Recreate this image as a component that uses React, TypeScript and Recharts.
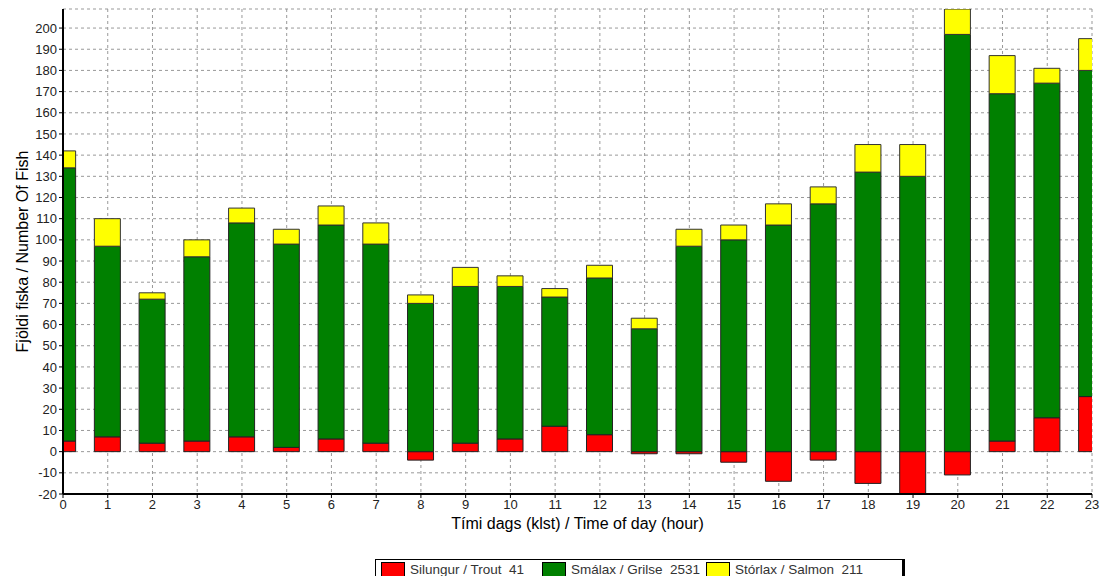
import React from 'react';
import { BarChart, Bar, XAxis, YAxis, CartesianGrid, Label } from 'recharts';

const hours = [0,1,2,3,4,5,6,7,8,9,10,11,12,13,14,15,16,17,18,19,20,21,22,23];
const trout = [5,7,4,5,7,2,6,4,-4,4,6,12,8,-1,-1,-5,-14,-4,-15,-21,-11,5,16,26];
const grilse = [129,90,68,87,101,96,101,94,70,74,72,61,74,58,97,100,107,117,132,130,197,164,158,154];
const salmon = [8,13,3,8,7,7,9,10,4,9,5,4,6,5,8,7,10,8,13,15,12,18,7,15];
const yTicks = [-20,-10,0,10,20,30,40,50,60,70,80,90,100,110,120,130,140,150,160,170,180,190,200];

const seriesNames = ['Silungur / Trout', 'Smálax / Grilse', 'Stórlax / Salmon'];
const seriesColors = ['#FF0000', '#008000', '#FFFF00'];
const seriesTotals = [41, 2531, 211];
const legendItemLeft = [5, 166, 330];

const data = hours.map((h, i) => ({ hour: h, trout: trout[i], grilse: grilse[i], salmon: salmon[i] }));

const FONT = '"Liberation Sans", Arial, sans-serif';

export default function App() {
  return (
    <div style={{ position: 'absolute', left: 0, top: 0, width: 1103, height: 576, background: '#fff', fontFamily: FONT }}>
      <BarChart
        width={1103}
        height={576}
        data={data}
        stackOffset="sign"
        barSize={26}
        margin={{ top: 9, right: 11, bottom: 42, left: 0 }}
      >
        <CartesianGrid stroke="#999" strokeDasharray="3 3" />
        <XAxis
          dataKey="hour"
          type="number"
          domain={[0, 23]}
          ticks={hours}
          interval={0}
          allowDataOverflow
          height={40}
          tick={{ fontSize: 13, fill: '#222', fontFamily: FONT }}
          tickSize={4}
          tickMargin={2}
          tickLine={{ stroke: '#000' }}
          axisLine={{ stroke: '#000', strokeWidth: 2 }}
        >
          <Label value="Tími dags (klst) / Time of day (hour)" position="insideBottom" offset={5}
            style={{ fontSize: 16, fill: '#000', fontFamily: FONT }} />
        </XAxis>
        <XAxis xAxisId="top" orientation="top" type="number" domain={[0, 23]} height={0}
          tick={false} tickLine={false} axisLine={{ stroke: '#808080', strokeWidth: 1.5 }} />
        <YAxis
          type="number"
          domain={[-20, 209]}
          ticks={yTicks}
          interval={0}
          allowDataOverflow
          width={63}
          tick={{ fontSize: 13, fill: '#222', fontFamily: FONT }}
          tickSize={4}
          tickMargin={2}
          tickLine={{ stroke: '#000' }}
          axisLine={{ stroke: '#000', strokeWidth: 2 }}
        >
          <Label value="Fjöldi fiska / Number Of Fish" angle={-90} position="insideLeft" offset={22}
            style={{ fontSize: 16, fill: '#000', fontFamily: FONT, textAnchor: 'middle' }} />
        </YAxis>
        <YAxis yAxisId="right" orientation="right" width={0} domain={[-20, 209]}
          tick={false} tickLine={false} axisLine={{ stroke: '#808080', strokeWidth: 1.5 }} />
        <Bar dataKey="trout" stackId="a" fill={seriesColors[0]} stroke="#222" strokeWidth={1} isAnimationActive={false} />
        <Bar dataKey="grilse" stackId="a" fill={seriesColors[1]} stroke="#222" strokeWidth={1} isAnimationActive={false} />
        <Bar dataKey="salmon" stackId="a" fill={seriesColors[2]} stroke="#333" strokeWidth={1} isAnimationActive={false} />
      </BarChart>
      <div style={{
        position: 'absolute', left: 375, top: 559, width: 530, height: 22,
        border: '1px solid #000', borderRight: '3px solid #000', background: '#fff',
        fontSize: 13.5, color: '#333', fontFamily: FONT, boxSizing: 'border-box'
      }}>
        {seriesNames.map((n, i) => (
          <div key={n} style={{ position: 'absolute', left: legendItemLeft[i], top: 2, display: 'flex', alignItems: 'center', whiteSpace: 'pre' }}>
            <span style={{ display: 'inline-block', width: 22, height: 13, background: seriesColors[i], border: '1px solid #000', marginRight: 5 }} />
            <span>{n + '  ' + seriesTotals[i]}</span>
          </div>
        ))}
      </div>
    </div>
  );
}
